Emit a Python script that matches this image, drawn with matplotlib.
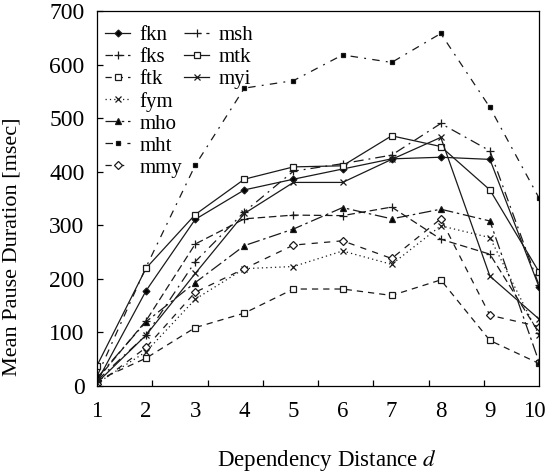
import matplotlib
import matplotlib.pyplot as plt
import matplotlib.transforms as mtransforms
import numpy as np

matplotlib.use("Agg")

plt.rcParams["font.family"] = "Liberation Serif"
plt.rcParams["mathtext.fontset"] = "stix"

# Dependency distance and mean pause duration (msec) per corpus
distance = [1, 2, 3, 4, 5, 6, 7, 8, 9, 10]
fkn = [8, 178, 311, 366, 386, 405, 424, 427, 423, 185]
fks = [12, 122, 265, 312, 319, 318, 334, 274, 246, 99]
ftk = [10, 52, 109, 136, 181, 181, 169, 198, 85, 42]
fym = [5, 64, 162, 219, 223, 252, 227, 299, 277, 95]
mho = [15, 120, 193, 262, 293, 333, 312, 330, 308, 45]
mht = [18, 222, 412, 556, 570, 618, 604, 658, 520, 351]
mmy = [3, 72, 175, 219, 263, 271, 238, 312, 132, 111]
msh = [10, 95, 232, 325, 401, 415, 431, 490, 439, 188]
mtk = [38, 220, 320, 386, 409, 411, 467, 447, 366, 213]
myi = [6, 95, 210, 322, 380, 380, 423, 464, 205, 125]

series = [
    ("fkn", fkn, (), "D", "k", 3.5),
    ("fks", fks, (6, 3), "+", "k", 6),
    ("ftk", ftk, (5, 4), "s", "white", 5),
    ("fym", fym, (1, 2.5), "x", "k", 5),
    ("mho", mho, (10, 3, 2, 3), "^", "k", 5),
    ("mht", mht, (6, 5, 1.5, 5), "s", "k", 3.5),
    ("mmy", mmy, (5, 5), "D", "white", 4.5),
    ("msh", msh, (8, 4, 1.5, 4), "+", "k", 6),
    ("mtk", mtk, (), "s", "white", 5),
    ("myi", myi, (), "x", "k", 5),
]

fig = plt.figure(figsize=(5.49, 4.74), dpi=100)
ax = fig.add_axes([0.1767, 0.1857, 0.8051, 0.7911])

handles = []
for name, vals, dash, marker, face, ms in series:
    (line,) = ax.plot(
        distance,
        vals,
        color="#1a1a1a",
        lw=0.9,
        marker=marker,
        markersize=ms,
        markerfacecolor=face,
        markeredgecolor="#1a1a1a",
        markeredgewidth=0.9,
        label=name,
    )
    if dash:
        line.set_dashes(dash)
    handles.append(line)

ax.set_xlim(1, 10)
ax.set_ylim(0, 700)

ax.set_xticks(distance)
ax.tick_params(axis="x", which="major", length=0, pad=11, labelsize=16.5)
ax.set_xticks([1 + k * 9 / 8 for k in range(1, 8)], minor=True)
ax.tick_params(axis="x", which="minor", direction="in", length=4.5, width=0.9)

# nudge the last label so it stays inside the figure
last = ax.get_xticklabels()[-1]
last.set_transform(
    last.get_transform() + mtransforms.ScaledTranslation(-3 / 72, 0, fig.dpi_scale_trans)
)

ax.set_yticks(np.arange(0, 701, 100))
ax.tick_params(axis="y", direction="in", length=4, width=0.9, pad=9, labelsize=17)

for s in ax.spines.values():
    s.set_linewidth(0.9)

ax.set_xlabel("Dependency Distance $d$", fontsize=16.5)
ax.xaxis.set_label_coords(0.52, -0.165)
ax.set_ylabel("Mean Pause Duration [msec]", fontsize=16)
ax.yaxis.set_label_coords(-0.17, 0.37)

# 7 entries in the first column, 3 in the second
blank = [plt.Line2D([], [], alpha=0) for _ in range(4)]
labels = [h.get_label() for h in handles] + [""] * 4
ax.legend(
    handles + blank,
    labels,
    loc="upper left",
    bbox_to_anchor=(-0.01, 0.995),
    ncol=2,
    frameon=False,
    fontsize=15,
    labelspacing=0.12,
    handlelength=1.2,
    handletextpad=0.45,
    columnspacing=0.1,
    borderaxespad=0.2,
)

fig.savefig("out.png", dpi=100)
